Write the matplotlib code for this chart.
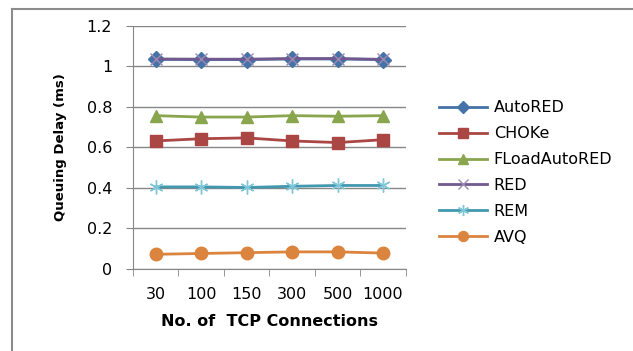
import matplotlib.pyplot as plt
from matplotlib.lines import Line2D

# Données
connexions = ["30", "100", "150", "300", "500", "1000"]
autored = [1.035, 1.034, 1.034, 1.037, 1.037, 1.034]
choke = [0.632, 0.643, 0.647, 0.632, 0.624, 0.638]
fload = [0.757, 0.750, 0.750, 0.757, 0.754, 0.757]
red = [1.037, 1.036, 1.036, 1.039, 1.039, 1.035]
rem = [0.405, 0.405, 0.402, 0.408, 0.412, 0.412]
avq = [0.072, 0.076, 0.080, 0.084, 0.084, 0.078]

fig = plt.figure(figsize=(6.33, 3.51), dpi=100)
ax = fig.add_axes([0.210, 0.234, 0.431, 0.692])

x = list(range(len(connexions)))
lw = 2.0
ax.plot(x, autored, color="#4572A7", lw=lw, marker="D", ms=8, label="AutoRED")
ax.plot(x, choke, color="#AA4643", lw=lw, marker="s", ms=9, label="CHOKe")
ax.plot(x, fload, color="#89A54E", lw=lw, marker="^", ms=9, label="FLoadAutoRED")
ax.plot(x, red, color="#71588F", lw=lw, marker="x", ms=9, mew=1.0,
        mec="#9C8AB4", label="RED")
ax.plot(x, rem, color="#4198AF", lw=lw, marker=(6, 2, 0), ms=10, mew=1.0,
        mec="#7FC6D8", label="REM")
ax.plot(x, avq, color="#DB843D", lw=lw, marker="o", ms=9, label="AVQ")

ax.set_xlim(-0.5, 5.5)
ax.set_ylim(0, 1.2)
ax.set_yticks([0, 0.2, 0.4, 0.6, 0.8, 1.0, 1.2])
ax.set_yticklabels(["0", "0.2", "0.4", "0.6", "0.8", "1", "1.2"])
ax.yaxis.grid(True, color="#868686", lw=1)
ax.set_axisbelow(True)

ax.set_xticks(x)
ax.set_xticklabels(connexions)
ax.set_xticks([i - 0.5 for i in range(7)], minor=True)
ax.tick_params(axis="x", which="major", length=0, pad=13, labelsize=11.5)
ax.tick_params(axis="x", which="minor", length=5, color="#868686")
ax.tick_params(axis="y", length=5, color="#868686", labelsize=11.5, pad=10)

for s in ["top", "right"]:
    ax.spines[s].set_visible(False)
for s in ["left", "bottom"]:
    ax.spines[s].set_color("#868686")

ax.set_xlabel("No. of  TCP Connections", fontweight="bold", fontsize=11.5, labelpad=9)
ax.set_ylabel("Queuing Delay (ms)", fontsize=9.5, fontweight="bold",
              family=["Liberation Sans Narrow", "DejaVu Sans"], labelpad=14)

ax.legend(loc="upper left", bbox_to_anchor=(1.10, 0.72), frameon=False,
          fontsize=11.5, handlelength=3.0, labelspacing=0.68, handletextpad=0.4,
          markerscale=0.8, borderaxespad=0)

# Cadre extérieur
fig.add_artist(Line2D([12 / 633, 12 / 633], [0, 1 - 9 / 351], color="#8c8c8c", lw=1.5,
                      transform=fig.transFigure))
fig.add_artist(Line2D([12 / 633, 1], [1 - 9 / 351, 1 - 9 / 351], color="#8c8c8c", lw=1.5,
                      transform=fig.transFigure))

fig.savefig("out.png", dpi=100)
